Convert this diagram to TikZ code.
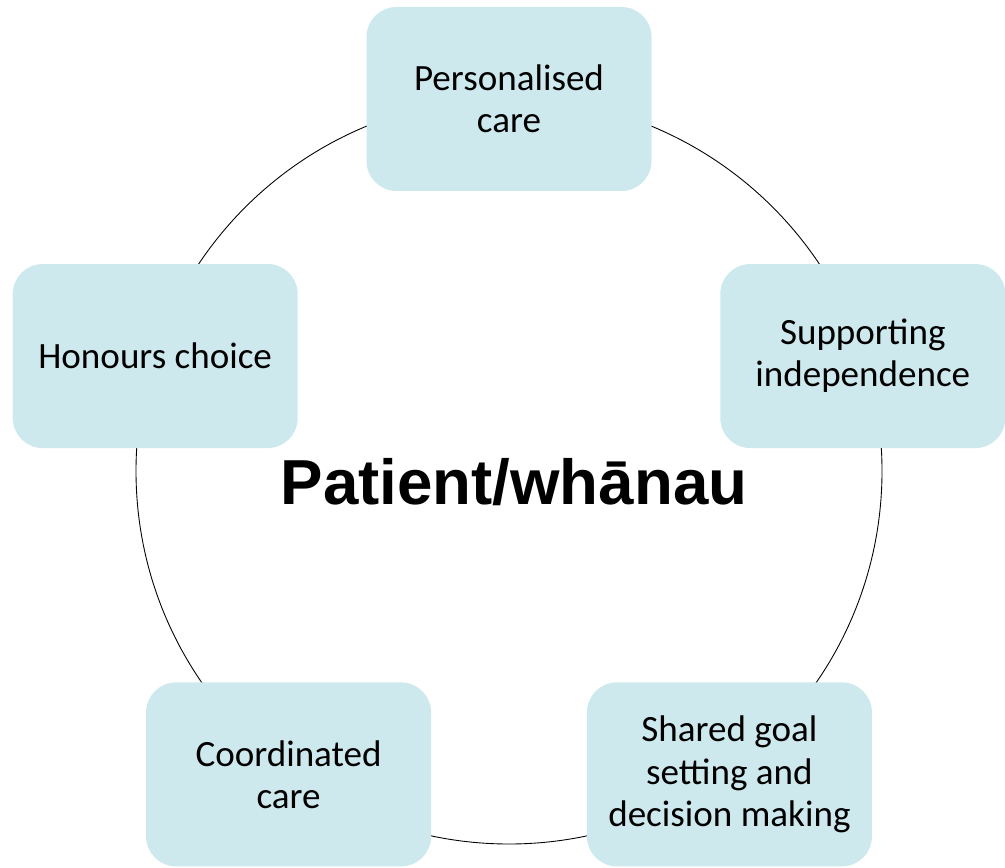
\documentclass[tikz,border=0pt]{standalone}
\usepackage{fontspec}
\usetikzlibrary{calc}
\setmainfont{Carlito}
\newfontfamily\titlefont{Liberation Sans}
\definecolor{boxfill}{RGB}{205,233,237}
\tikzset{
  valuebox/.style={draw=none, fill=boxfill, rounded corners=0.6cm,
    minimum width=5.7cm, minimum height=3.68cm, align=center,
    font=\fontsize{21.1}{24}\selectfont},
}
\begin{document}
\begin{tikzpicture}
  \useasboundingbox (0,0) rectangle (20.1,-17.36);
  \coordinate (ctr) at (10.18,-9.42);
  \draw[line width=0.5pt] (ctr) circle (7.46);
  \node[valuebox] (personal) at ($(ctr)+(90:7.44)$) {Personalised\\care};
  \node[valuebox] (support) at ($(ctr)+(18:7.44)$) {Supporting\\independence};
  \node[valuebox] (shared) at ($(ctr)+(-54:7.5)$) {Shared goal\\setting and\\decision making};
  \node[valuebox] (coord) at ($(ctr)+(-126:7.5)$) {Coordinated\\care};
  \node[valuebox] (choice) at ($(ctr)+(162:7.44)$) {Honours choice};
  \node[anchor=base, font=\titlefont\bfseries\fontsize{36.2}{40}\selectfont]
    (patient) at (10.28,-10.08) {Patient/whānau};
\end{tikzpicture}
\end{document}
